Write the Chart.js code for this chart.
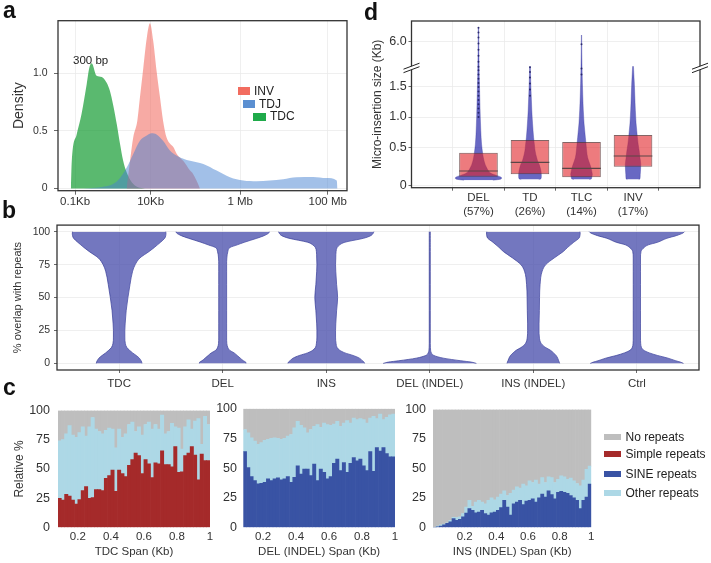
<!DOCTYPE html>
<html>
<head>
<meta charset="utf-8">
<script src="https://cdn.jsdelivr.net/npm/chart.js@4.4.1/dist/chart.umd.min.js"></script>
<style>
  body { margin: 0; width: 711px; height: 563px; background: #fff; position: relative; overflow: hidden;
         font-family: 'Liberation Sans', Arial, sans-serif; color: #222; }
  canvas { position: absolute; }
  .pl { position: absolute; font-weight: bold; font-size: 23px; line-height: 23px; color: #111; }
  .tx { position: absolute; white-space: nowrap; line-height: 12px; color: #222; }
  .sw { position: absolute; }
</style>
</head>
<body>
<canvas id="chartA" width="360" height="212" style="left:0;top:0"></canvas>
<canvas id="chartD" width="351" height="222" style="left:360px;top:0"></canvas>
<canvas id="chartB" width="711" height="180" style="left:0;top:215px"></canvas>
<canvas id="chartC1" width="222" height="168" style="left:0;top:395px"></canvas>
<canvas id="chartC2" width="222" height="168" style="left:185px;top:395px"></canvas>
<canvas id="chartC3" width="230" height="168" style="left:375px;top:395px"></canvas>

<div class="pl" style="left:3px;top:-1.5px">a</div>
<div class="pl" style="left:364px;top:0.5px">d</div>
<div class="pl" style="left:2px;top:198.5px">b</div>
<div class="pl" style="left:3px;top:375.5px">c</div>

<!-- panel a legend -->
<div class="tx" style="left:73px;top:53.5px;font-size:11.5px">300 bp</div>
<div class="sw" style="left:238px;top:87px;width:12px;height:8px;background:#f26c5f"></div>
<div class="tx" style="left:254px;top:85px;font-size:12px">INV</div>
<div class="sw" style="left:243px;top:100px;width:12px;height:8px;background:#5b8fd1"></div>
<div class="tx" style="left:259px;top:98px;font-size:12px">TDJ</div>
<div class="sw" style="left:252.5px;top:112.5px;width:13px;height:8px;background:#1faa4a"></div>
<div class="tx" style="left:270px;top:110px;font-size:12px">TDC</div>

<!-- panel c legend -->
<div class="sw" style="left:604px;top:433.5px;width:16.5px;height:6px;background:#bebebe"></div>
<div class="tx" style="left:625.5px;top:430.5px;font-size:12px">No repeats</div>
<div class="sw" style="left:604px;top:451.3px;width:16.5px;height:6px;background:#a52a2a"></div>
<div class="tx" style="left:625.5px;top:448.3px;font-size:12px">Simple repeats</div>
<div class="sw" style="left:604px;top:471px;width:16.5px;height:6px;background:#3953a4"></div>
<div class="tx" style="left:625.5px;top:468px;font-size:12px">SINE repeats</div>
<div class="sw" style="left:604px;top:490.3px;width:16.5px;height:6px;background:#add8e6"></div>
<div class="tx" style="left:625.5px;top:487.3px;font-size:12px">Other repeats</div>

<script>
// ---------- a) size density, x in log10(bp) ----------
const sizeTicks = [2.13, 3.89, 5.98, 8.02];
const sizeTickLabels = ['0.1Kb', '10Kb', '1 Mb', '100 Mb'];
const tdcX = [2.03, 2.05, 2.165, 2.28, 2.40, 2.46, 2.515, 2.63, 2.75, 2.865, 2.94, 3.02, 3.10, 3.175, 3.25, 3.33, 3.45, 3.60, 3.76];
const tdcY = [0, 0.23, 0.47, 0.65, 0.91, 1.05, 1.09, 0.98, 0.97, 0.92, 0.85, 0.72, 0.56, 0.39, 0.24, 0.14, 0.054, 0.01, 0];
const invX = [3.33, 3.41, 3.485, 3.58, 3.64, 3.72, 3.80, 3.875, 3.95, 4.03, 4.11, 4.18, 4.26, 4.34, 4.42, 4.50, 4.57, 4.65, 4.73, 4.81, 4.88, 4.96, 5.04];
const invY = [0, 0.24, 0.445, 0.59, 0.79, 1.05, 1.31, 1.437, 1.285, 1.02, 0.79, 0.59, 0.445, 0.39, 0.36, 0.30, 0.27, 0.24, 0.20, 0.155, 0.126, 0.068, 0];
const tdjX = [2.32, 2.71, 3.10, 3.33, 3.485, 3.64, 3.80, 3.91, 4.03, 4.18, 4.34, 4.50, 4.81, 5.12, 5.43, 5.74, 6.05, 6.36, 6.67, 6.98, 7.29, 7.68, 7.99, 8.23, 8.25];
const tdjY = [0, 0.01, 0.06, 0.18, 0.30, 0.415, 0.46, 0.48, 0.47, 0.415, 0.33, 0.285, 0.24, 0.213, 0.155, 0.097, 0.068, 0.062, 0.068, 0.08, 0.097, 0.10, 0.09, 0.068, 0];

// ---------- b) % overlap with repeats (violin half widths per level) ----------
const overlapCats = ['TDC', 'DEL', 'INS', 'DEL (INDEL)', 'INS (INDEL)', 'Ctrl'];
const overlapLevels = [0, 1, 2, 4, 6, 8, 10, 12, 15, 20, 25, 30, 40, 50, 60, 70, 75, 80, 85, 88, 90, 92, 95, 97, 99, 100];
const bTdcW      = [0.22, 0.218, 0.212, 0.195, 0.165, 0.13, 0.1, 0.075, 0.06, 0.055, 0.055, 0.058, 0.068, 0.085, 0.105, 0.13, 0.155, 0.2, 0.29, 0.34, 0.37, 0.4, 0.44, 0.45, 0.452, 0.45];
const bDelW      = [0.225, 0.222, 0.2, 0.17, 0.14, 0.11, 0.066, 0.05, 0.04, 0.038, 0.038, 0.038, 0.038, 0.038, 0.038, 0.038, 0.038, 0.04, 0.05, 0.07, 0.14, 0.21, 0.33, 0.4, 0.445, 0.45];
const bInsW      = [0.37, 0.365, 0.35, 0.32, 0.26, 0.18, 0.13, 0.105, 0.095, 0.09, 0.09, 0.092, 0.1, 0.11, 0.1, 0.092, 0.09, 0.092, 0.095, 0.105, 0.13, 0.18, 0.36, 0.43, 0.455, 0.46];
const bDelIndelW = [0.45, 0.4, 0.3, 0.13, 0.04, 0.015, 0.008, 0.006, 0.005, 0.005, 0.005, 0.005, 0.005, 0.005, 0.005, 0.005, 0.005, 0.005, 0.005, 0.005, 0.005, 0.005, 0.005, 0.005, 0.005, 0.005];
const bInsIndelW = [0.254, 0.25, 0.245, 0.235, 0.22, 0.195, 0.165, 0.12, 0.077, 0.058, 0.055, 0.055, 0.058, 0.06, 0.065, 0.085, 0.12, 0.2, 0.29, 0.33, 0.36, 0.39, 0.44, 0.45, 0.452, 0.45];
const bCtrlW     = [0.45, 0.42, 0.375, 0.3, 0.2, 0.12, 0.066, 0.045, 0.037, 0.035, 0.035, 0.035, 0.035, 0.035, 0.035, 0.035, 0.035, 0.035, 0.04, 0.07, 0.11, 0.2, 0.29, 0.38, 0.445, 0.46];

// ---------- c) relative % by span (cumulative tops per 0.02 Kb bin) ----------
const spanBins = [0.09, 0.11, 0.13, 0.15, 0.17, 0.19, 0.21, 0.23, 0.25, 0.27, 0.29, 0.31, 0.33, 0.35, 0.37, 0.39,
  0.41, 0.43, 0.45, 0.47, 0.49, 0.51, 0.53, 0.55, 0.57, 0.59, 0.61, 0.63, 0.65, 0.67, 0.69, 0.71, 0.73, 0.75, 0.77,
  0.79, 0.81, 0.83, 0.85, 0.87, 0.89, 0.91, 0.93, 0.95, 0.97, 0.99];
const insBins = [0.01, 0.03, 0.05, 0.07, 0.09, 0.11, 0.13, 0.15, 0.17, 0.19, 0.21, 0.23, 0.25, 0.27, 0.29, 0.31, 0.33,
  0.35, 0.37, 0.39, 0.41, 0.43, 0.45, 0.47, 0.49, 0.51, 0.53, 0.55, 0.57, 0.59, 0.61, 0.63, 0.65, 0.67, 0.69, 0.71,
  0.73, 0.75, 0.77, 0.79, 0.81, 0.83, 0.85, 0.87, 0.89, 0.91, 0.93, 0.95, 0.97, 0.99];
const spanTicks = [0.2, 0.4, 0.6, 0.8, 1];
const tdcSimpleTop = [24.9, 23.2, 28.2, 26.8, 23.2, 19.9, 23.8, 31.5, 34.8, 24.9, 25.4, 32.3, 32.3, 31.5, 42.0, 44.2,
  48.9, 30.9, 48.9, 46.1, 43.4, 53.0, 58.0, 63.5, 61.3, 46.1, 58.0, 54.4, 42.5, 55.2, 54.4, 65.5, 53.6, 53.6, 51.7,
  69.1, 47.0, 47.5, 61.3, 63.5, 69.1, 61.9, 40.6, 62.7, 57.2, 57.2];
const tdcOtherTop = [74, 75, 80, 87, 79, 77, 81, 86, 78, 86, 94, 84, 82, 80, 83, 85, 84, 68, 84, 77, 80, 88, 90, 82,
  86, 79, 88, 90, 84, 88, 84, 96, 80, 82, 89, 86, 85, 67, 86, 92, 84, 91, 93, 71, 95, 88];
const delSineTop = [63.9, 50.5, 42.8, 39.4, 36.7, 37.2, 38, 40.8, 39.4, 40.8, 41.7, 40, 40.8, 42.8, 38, 42.2, 51.9, 45,
  49.2, 49.2, 43.6, 53.3, 39.4, 49.2, 46.4, 40.8, 42.8, 53.9, 57.5, 47.8, 54.7, 46.4, 53.9, 58.9, 56.1, 57.5, 51.9,
  47.8, 63.9, 47.2, 67.2, 64.4, 67.2, 62.2, 59.4, 59.4];
const delOtherTop = [82.5, 79.7, 75.5, 72.8, 70, 71.4, 73.3, 74.2, 75, 75.5, 75, 74.2, 75, 76.9, 78.3, 83.9, 89.4, 86.1,
  83.9, 79.7, 82.5, 85.3, 86.7, 84.4, 88, 86.7, 86.1, 87.2, 89.4, 85.3, 88, 90, 88, 92.2, 90.8, 91.7, 90.8, 88, 92.2,
  93.6, 91.7, 95.6, 90.8, 92.8, 95, 95.6];
const insSineTop = [0, 0.5, 1, 2, 3.3, 4.7, 7.5, 6, 6.7, 8.9, 12, 15.8, 14.4, 12.2, 13, 14.4, 11.7, 10.3, 12.2, 13, 14.4,
  16.7, 22.8, 17.2, 10.3, 20, 21.4, 22.8, 19.3, 22.2, 22.8, 24.2, 21.4, 25, 28.3, 25.6, 31, 27.8, 24.2, 29.7, 30.6,
  29.7, 28.9, 27, 25, 22.8, 15.8, 22.8, 25.6, 36.7];
const insOtherTop = [0, 1, 2, 2.8, 3.9, 6, 8.5, 8.3, 8.9, 11.7, 17.2, 22.8, 17.8, 21.4, 22.8, 21.4, 20, 22.8, 25, 23.3,
  25.6, 28.3, 31, 27, 28.9, 31.7, 34.4, 33.3, 36.7, 35.3, 39.4, 38, 40, 36.7, 42.2, 38, 42.8, 42.2, 38, 40.8, 43.6,
  42.8, 40.8, 41.7, 39.4, 37.2, 35.3, 40, 49.2, 51.9];

// ---------- d) micro-insertion size (Kb) ----------
const insCats = ['DEL', 'TD', 'TLC', 'INV'];
const insPct = ['(57%)', '(26%)', '(14%)', '(17%)'];
const boxLow = [0.117, 0.149, 0.109, 0.251];
const boxHigh = [0.437, 0.629, 0.597, 0.71];
const boxMedian = [0.193, 0.309, 0.229, 0.393];
const dDelLv = [0.07, 0.085, 0.1, 0.115, 0.135, 0.16, 0.19, 0.235, 0.28, 0.37, 0.46, 0.56, 0.78, 1.0, 1.33, 1.67, 1.84, 5.82, 6.23];
const dDelW  = [0.28, 0.43, 0.45, 0.43, 0.35, 0.25, 0.2, 0.16, 0.13, 0.095, 0.075, 0.06, 0.045, 0.035, 0.025, 0.015, 0.012, 0.008, 0.004];
const dTdLv  = [0.079, 0.088, 0.116, 0.143, 0.188, 0.233, 0.279, 0.324, 0.369, 0.46, 0.561, 0.671, 0.89, 1.111, 1.334, 1.557, 1.84];
const dTdW   = [0.17, 0.21, 0.22, 0.22, 0.215, 0.2, 0.18, 0.15, 0.13, 0.1, 0.085, 0.07, 0.05, 0.035, 0.025, 0.015, 0.006];
const dTlcLv = [0.079, 0.088, 0.116, 0.143, 0.188, 0.233, 0.279, 0.369, 0.46, 0.561, 0.671, 0.89, 1.111, 1.334, 1.557, 1.84, 5.82, 6.1];
const dTlcW  = [0.15, 0.19, 0.2, 0.21, 0.2, 0.185, 0.165, 0.12, 0.1, 0.088, 0.075, 0.05, 0.035, 0.025, 0.017, 0.01, 0.006, 0.003];
const dInvLv = [0.079, 0.088, 0.143, 0.188, 0.279, 0.369, 0.46, 0.561, 0.671, 0.89, 1.111, 1.334, 1.557, 1.84];
const dInvW  = [0.11, 0.135, 0.14, 0.145, 0.15, 0.135, 0.12, 0.1, 0.085, 0.06, 0.045, 0.035, 0.025, 0.008];
const delOutliers = [1.0, 1.07, 1.14, 1.21, 1.28, 1.35, 1.42, 1.49, 1.56, 1.63, 1.7, 1.77, 1.83, 5.66, 5.76, 5.86, 5.96, 6.06, 6.14, 6.22];
const tdOutliers = [1.35, 1.45, 1.55, 1.65, 1.74, 1.82];
const tlcOutliers = [1.7, 1.8, 5.95];
const dTickVals = [0, 0.5, 1.0, 1.5, 6.0];
const dTickLabels = ['0', '0.5', '1.0', '1.5', '6.0'];

// ---------- shared bits ----------
Chart.defaults.font.family = "'Liberation Sans', Arial, sans-serif";
Chart.defaults.color = '#333';
Chart.defaults.animation = false;
Chart.defaults.responsive = false;
Chart.defaults.events = [];
Chart.defaults.plugins.legend.display = false;
Chart.defaults.plugins.tooltip.enabled = false;
Chart.defaults.elements.point.radius = 0;

const fixWidth = w => s => { s.width = w; };
const fixHeight = h => s => { s.height = h; };
const setTicks = vals => s => { s.ticks = vals.map(v => ({ value: v })); };
const grid = { color: '#ebebeb', lineWidth: 0.8, tickColor: '#444', tickLength: 3 };

// box round the plot area (ggplot panel border)
const framePlugin = {
  id: 'frame',
  afterDraw(chart) {
    const { ctx, chartArea: a } = chart;
    ctx.save();
    ctx.strokeStyle = '#333';
    ctx.lineWidth = 1.3;
    ctx.strokeRect(a.left, a.top, a.right - a.left, a.bottom - a.top);
    ctx.restore();
  }
};

function violinSets(center, levels, widths, fillColor, edgeColor) {
  const common = { indexAxis: 'y', borderColor: edgeColor, borderWidth: 0.8, pointRadius: 0, cubicInterpolationMode: 'monotone' };
  return [
    { ...common, data: levels.map((v, i) => ({ x: center - widths[i], y: v })), fill: '+1', backgroundColor: fillColor },
    { ...common, data: levels.map((v, i) => ({ x: center + widths[i], y: v })), fill: false }
  ];
}

// ---------- a ----------
function densitySet(xs, ys, color) {
  return { data: xs.map((x, i) => ({ x, y: ys[i] })), fill: 'origin', backgroundColor: color,
           borderWidth: 0, borderColor: 'rgba(0,0,0,0)', cubicInterpolationMode: 'monotone' };
}
new Chart(document.getElementById('chartA'), {
  type: 'line',
  data: { datasets: [
    densitySet(tdjX, tdjY, 'rgba(70,130,210,0.5)'),
    densitySet(invX, invY, 'rgba(240,100,90,0.55)'),
    densitySet(tdcX, tdcY, 'rgba(20,155,50,0.7)')
  ] },
  options: {
    layout: { padding: { left: 0, top: 20.7, right: 13, bottom: 0 } },
    scales: {
      x: { type: 'linear', min: 1.73, max: 8.47, afterBuildTicks: setTicks(sizeTicks), afterFit: fixHeight(21.3),
           grid: { ...grid, tickLength: 4 }, border: { display: false },
           ticks: { font: { size: 11.5 }, padding: 0, autoSkip: false, maxRotation: 0,
                    callback: v => sizeTickLabels[sizeTicks.indexOf(v)] } },
      y: { min: -0.02, max: 1.46, afterBuildTicks: setTicks([0, 0.5, 1]), afterFit: fixWidth(58),
           grid: { ...grid, tickLength: 4 }, border: { display: false },
           ticks: { font: { size: 10.5 }, padding: 6.5, callback: v => v === 0 ? '0' : v.toFixed(1) },
           title: { display: true, text: 'Density', font: { size: 14 }, padding: { top: 10.6, bottom: 0 } } }
    }
  },
  plugins: [framePlugin]
});

// ---------- b ----------
const bWidths = [bTdcW, bDelW, bInsW, bDelIndelW, bInsIndelW, bCtrlW];
new Chart(document.getElementById('chartB'), {
  type: 'line',
  data: { datasets: overlapCats.flatMap((c, i) =>
    violinSets(i + 1, overlapLevels, bWidths[i], 'rgba(80,85,175,0.8)', 'rgba(55,60,150,0.9)')) },
  options: {
    layout: { padding: { left: 0, top: 9, right: 12, bottom: 0 } },
    scales: {
      x: { type: 'linear', min: 0.4, max: 6.6, afterBuildTicks: setTicks([1, 2, 3, 4, 5, 6]), afterFit: fixHeight(25),
           grid, border: { display: false },
           ticks: { font: { size: 11.5 }, padding: 3.5, autoSkip: false, maxRotation: 0, callback: v => overlapCats[v - 1] } },
      y: { min: -5, max: 105, afterBuildTicks: setTicks([0, 25, 50, 75, 100]), afterFit: fixWidth(57),
           grid, border: { display: false }, ticks: { font: { size: 10.5 }, padding: 3.8 },
           title: { display: true, text: '% overlap with repeats', font: { size: 11 }, padding: { top: 11.7, bottom: 0 } } }
    }
  },
  plugins: [framePlugin]
});

// ---------- c ----------
function spanChart(id, bins, xMin, lowTop, otherTop, lowColor, xTitle, yWidth, yPad, padRight, showYTitle) {
  const bar = { grouped: false, barPercentage: 1, categoryPercentage: 1, borderWidth: 0 };
  new Chart(document.getElementById(id), {
    type: 'bar',
    data: { datasets: [
      { ...bar, data: bins.map((x, i) => ({ x, y: [0, lowTop[i]] })), backgroundColor: lowColor },
      { ...bar, data: bins.map((x, i) => ({ x, y: [lowTop[i], otherTop[i]] })), backgroundColor: '#add8e6' },
      { ...bar, data: bins.map((x, i) => ({ x, y: [otherTop[i], 100] })), backgroundColor: '#bebebe' }
    ] },
    options: {
      layout: { padding: { left: 0, top: 12, right: padRight, bottom: 0 } },
      scales: {
        x: { type: 'linear', offset: false, min: xMin, max: 1.0, afterBuildTicks: setTicks(spanTicks), afterFit: fixHeight(35.7),
             grid: { display: false, drawTicks: false }, border: { display: false },
             ticks: { font: { size: 11.5 }, padding: 3, autoSkip: false, maxRotation: 0, callback: v => v === 1 ? '1' : v.toFixed(1) },
             title: { display: true, text: xTitle, font: { size: 11.5 }, padding: { top: 0, bottom: 3.8 } } },
        y: { min: 0, max: 100, afterBuildTicks: setTicks([0, 25, 50, 75, 100]), afterFit: fixWidth(yWidth),
             grid: { display: false, drawTicks: false }, border: { display: false },
             ticks: { font: { size: 12.5 }, padding: yPad },
             title: { display: showYTitle, text: 'Relative %', font: { size: 12 }, padding: { top: 12.8, bottom: 0 } } }
      }
    }
  });
}
spanChart('chartC1', spanBins, 0.08, tdcSimpleTop, tdcOtherTop, '#a52a2a', 'TDC Span (Kb)', 58, 8, 12, true);
spanChart('chartC2', spanBins, 0.08, delSineTop, delOtherTop, '#3953a4', 'DEL (INDEL) Span (Kb)', 58.3, 6.3, 12, false);
spanChart('chartC3', insBins, 0, insSineTop, insOtherTop, '#3953a4', 'INS (INDEL) Span (Kb)', 58, 7, 13.7, false);

// ---------- d ----------
// the y axis of d is piecewise: breaks are not evenly spaced, and it is cut between ~1.85 and 5.6
const dAxisReal = [0, 0.5, 1.0, 1.5, 1.85];
const dAxisPos = [0, 0.615, 1.123, 1.623, 1.967];
const dCutTop = 5.6;
function dPos(v) {
  if (v > dAxisReal[dAxisReal.length - 1]) return dAxisPos[dAxisPos.length - 1] + (v - dCutTop);
  for (let i = 1; i < dAxisReal.length; i++) {
    if (v <= dAxisReal[i]) {
      return dAxisPos[i - 1] + (v - dAxisReal[i - 1]) * (dAxisPos[i] - dAxisPos[i - 1]) / (dAxisReal[i] - dAxisReal[i - 1]);
    }
  }
}
const dViolins = [[dDelLv, dDelW], [dTdLv, dTdW], [dTlcLv, dTlcW], [dInvLv, dInvW]];
const dOutliers = [delOutliers, tdOutliers, tlcOutliers, []];

// "//" marks where the y axis is cut
const breakPlugin = {
  id: 'axisBreak',
  afterDraw(chart) {
    const { ctx, chartArea: a, scales } = chart;
    const y = scales.y.getPixelForValue(1.94);
    ctx.save();
    [a.left, a.right].forEach(x0 => {
      ctx.fillStyle = '#fff';
      ctx.beginPath();
      ctx.moveTo(x0 - 8, y + 2); ctx.lineTo(x0 + 8, y - 4);
      ctx.lineTo(x0 + 8, y - 0.5); ctx.lineTo(x0 - 8, y + 5.5);
      ctx.closePath(); ctx.fill();
      ctx.strokeStyle = '#222'; ctx.lineWidth = 1;
      ctx.beginPath();
      ctx.moveTo(x0 - 8, y + 2); ctx.lineTo(x0 + 8, y - 4);
      ctx.moveTo(x0 - 8, y + 5.5); ctx.lineTo(x0 + 8, y - 0.5);
      ctx.stroke();
    });
    ctx.restore();
  }
};

new Chart(document.getElementById('chartD'), {
  type: 'line',
  data: { datasets: [
    ...dViolins.flatMap(([lv, w], i) =>
      violinSets(i + 1, lv.map(dPos), w, 'rgba(40,40,170,0.7)', 'rgba(40,40,150,0.55)').map(d => ({ ...d, order: 3, borderWidth: 0.6 }))),
    { type: 'bar', order: 2, data: insCats.map((c, i) => ({ x: i + 1, y: [dPos(boxLow[i]), dPos(boxHigh[i])] })),
      backgroundColor: 'rgba(225,35,40,0.6)', borderColor: 'rgba(90,50,50,0.75)', borderWidth: 1, borderSkipped: false,
      barPercentage: 0.75, categoryPercentage: 1 },
    ...insCats.map((c, i) => ({ order: 1, data: [{ x: i + 0.625, y: dPos(boxMedian[i]) }, { x: i + 1.375, y: dPos(boxMedian[i]) }],
      borderColor: '#5a4646', borderWidth: 1.2, fill: false })),
    { type: 'scatter', order: 0, data: dOutliers.flatMap((vals, i) => vals.map(v => ({ x: i + 1, y: dPos(v) }))),
      pointRadius: 1, backgroundColor: 'rgba(25,25,90,0.8)', borderWidth: 0 }
  ] },
  options: {
    layout: { padding: { left: 0, top: 21, right: 11, bottom: 0 } },
    scales: {
      x: { type: 'linear', min: 0.4, max: 4.6, afterBuildTicks: setTicks([1, 2, 3, 4]), afterFit: fixHeight(34.3),
           grid, border: { display: false },
           ticks: { font: { size: 11.5 }, padding: 0, autoSkip: false, maxRotation: 0,
                    callback: v => [insCats[v - 1], insPct[v - 1]] } },
      y: { min: -0.036, max: 2.697, afterBuildTicks: setTicks(dTickVals.map(dPos)), afterFit: fixWidth(51.5),
           grid, border: { display: false },
           ticks: { font: { size: 12.5 }, padding: 1.8, callback: (v, i) => dTickLabels[i] },
           title: { display: true, text: 'Micro-insertion size (Kb)', font: { size: 12 }, padding: { top: 10.3, bottom: 0 } } }
    }
  },
  plugins: [framePlugin, breakPlugin]
});
</script>
</body>
</html>
